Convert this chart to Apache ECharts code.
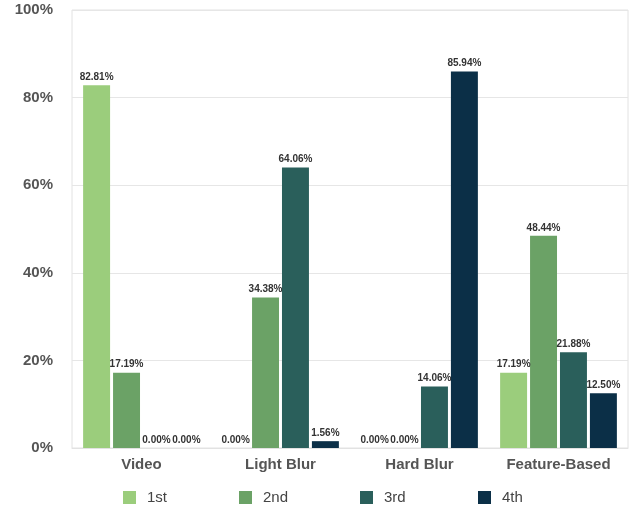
<!DOCTYPE html>
<html>
<head>
<meta charset="utf-8">
<script src="https://cdn.jsdelivr.net/npm/echarts@6/dist/echarts.min.js"></script>
<style>
  html, body { margin: 0; padding: 0; background: #fff; }
  #chart { width: 631px; height: 509px; }
</style>
</head>
<body>
<div id="chart"></div>
<script>
// Ranking shares per method (percent)
const categories = ['Video', 'Light Blur', 'Hard Blur', 'Feature-Based'];
const rankNames = ['1st', '2nd', '3rd', '4th'];
const first  = [82.81, 0.00, 0.00, 17.19];
const second = [17.19, 34.38, 0.00, 48.44];
const third  = [0.00, 64.06, 14.06, 21.88];
const fourth = [0.00, 1.56, 85.94, 12.50];
const yTicks = [0, 20, 40, 60, 80, 100];

const seriesValues = [first, second, third, fourth];
const colors = ['#9bcd7c', '#6ba266', '#2a5f5b', '#0b2f47'];
const legendLeft = [123, 239, 360, 478];
const FONT = 'Liberation Sans, Arial, sans-serif';

const chart = echarts.init(document.getElementById('chart'), null, { renderer: 'canvas' });

const series = rankNames.map((name, i) => ({
  name: name,
  type: 'bar',
  data: seriesValues[i],
  barGap: '11%',
  barCategoryGap: '16%',
  itemStyle: { color: colors[i] },
  label: {
    show: true,
    position: 'top',
    distance: 3,
    formatter: p => p.value.toFixed(2) + '%',
    fontSize: 10,
    fontWeight: 'bold',
    color: '#333',
    fontFamily: FONT
  }
}));

// one legend block per rank so the entries sit evenly spaced
const legends = rankNames.map((name, i) => ({
  data: [name],
  left: legendLeft[i],
  top: 490,
  icon: 'rect',
  itemWidth: 13,
  itemHeight: 13,
  padding: 0,
  selectedMode: false,
  textStyle: { fontSize: 15, color: '#444', fontFamily: FONT, padding: [0, 0, 0, 6] }
}));

chart.setOption({
  animation: false,
  backgroundColor: '#fff',
  color: colors,
  grid: {
    left: 72, right: 3, top: 10, bottom: 61,
    show: true, borderColor: '#e2e2e2', borderWidth: 1
  },
  legend: legends,
  xAxis: {
    type: 'category',
    data: categories,
    axisLine: { show: true, lineStyle: { color: '#e2e2e2' } },
    axisTick: { show: false },
    axisLabel: {
      fontSize: 15,
      fontWeight: 'bold',
      color: '#555',
      margin: 9,
      fontFamily: FONT
    }
  },
  yAxis: {
    type: 'value',
    min: yTicks[0],
    max: yTicks[yTicks.length - 1],
    interval: 20,
    axisLine: { show: false },
    axisTick: { show: false },
    splitLine: { lineStyle: { color: '#e6e6e6' } },
    axisLabel: {
      formatter: '{value}%',
      fontSize: 15,
      fontWeight: 'bold',
      color: '#555',
      margin: 19,
      fontFamily: FONT
    }
  },
  series: series
});
</script>
</body>
</html>
